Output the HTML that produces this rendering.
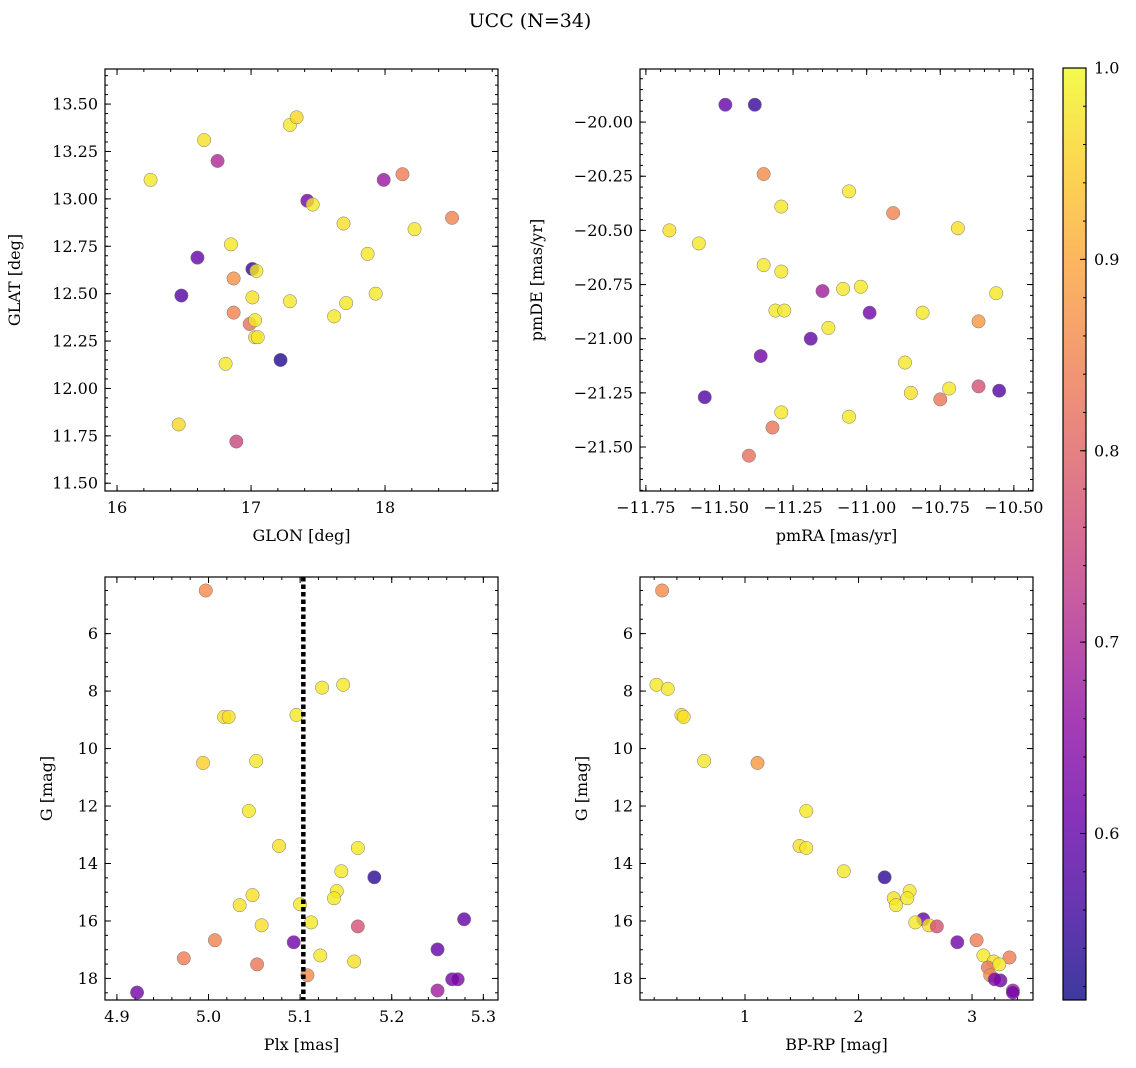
<!DOCTYPE html>
<html><head><meta charset="utf-8">
<style>
html,body{margin:0;padding:0;background:#fff;}
svg{display:block;font-family:"DejaVu Serif","Liberation Serif",serif;}
</style></head>
<body>
<svg id="fig" width="1136" height="1068" viewBox="0 0 1136 1068" xmlns="http://www.w3.org/2000/svg">
<defs>
<linearGradient id="plasma" x1="0" y1="1" x2="0" y2="0">
<stop offset="0" stop-color="#0d0887"/><stop offset="0.1" stop-color="#41049d"/><stop offset="0.2" stop-color="#6a00a8"/><stop offset="0.3" stop-color="#8f0da4"/><stop offset="0.4" stop-color="#b12a90"/><stop offset="0.5" stop-color="#cc4778"/><stop offset="0.6" stop-color="#e16462"/><stop offset="0.7" stop-color="#f2844b"/><stop offset="0.8" stop-color="#fca636"/><stop offset="0.9" stop-color="#fcce25"/><stop offset="1" stop-color="#f0f921"/>
</linearGradient>
</defs>
<text x="530" y="27" text-anchor="middle" font-size="19">UCC (N=34)</text>
</svg>
<script>
// Panel 1: GLON / GLAT
const p1X=[16.25,16.65,16.75,17.29,17.34,17.42,17.46,17.69,17.99,18.13,18.50,18.22,17.87,16.85,16.60,17.01,17.04,16.87,16.48,17.01,17.29,17.71,17.93,17.62,16.87,16.99,17.03,17.03,17.05,16.81,17.22,16.46,16.89];
const p1Y=[13.10,13.31,13.20,13.39,13.43,12.99,12.97,12.87,13.10,13.13,12.90,12.84,12.71,12.76,12.69,12.63,12.62,12.58,12.49,12.48,12.46,12.45,12.50,12.38,12.40,12.34,12.36,12.27,12.27,12.13,12.15,11.81,11.72];
const p1P=[0.98,0.97,0.70,0.98,0.96,0.62,0.98,0.97,0.67,0.84,0.85,0.98,0.98,0.98,0.60,0.55,0.98,0.87,0.58,0.97,0.98,0.98,0.98,0.98,0.85,0.82,0.98,0.97,0.98,0.98,0.53,0.96,0.75];
// Panel 2: pmRA / pmDE
const p2X=[-11.48,-11.38,-11.35,-11.06,-11.29,-10.91,-11.67,-10.69,-11.57,-11.35,-11.29,-11.15,-11.08,-11.02,-10.56,-11.31,-11.28,-10.99,-10.81,-10.62,-11.13,-11.19,-11.36,-10.87,-11.55,-10.85,-10.72,-10.62,-10.55,-10.75,-11.29,-11.06,-11.32,-11.40];
const p2Y=[-19.92,-19.92,-20.24,-20.32,-20.39,-20.42,-20.50,-20.49,-20.56,-20.66,-20.69,-20.78,-20.77,-20.76,-20.79,-20.87,-20.87,-20.88,-20.88,-20.92,-20.95,-21.00,-21.08,-21.11,-21.27,-21.25,-21.23,-21.22,-21.24,-21.28,-21.34,-21.36,-21.41,-21.54];
const p2P=[0.60,0.55,0.86,0.98,0.98,0.85,0.97,0.97,0.98,0.98,0.98,0.68,0.98,0.98,0.98,0.98,0.98,0.62,0.98,0.88,0.98,0.60,0.62,0.98,0.58,0.97,0.98,0.77,0.58,0.83,0.98,0.98,0.83,0.82];
// Panel 3: Plx / G
const p3X=[4.997,5.147,5.124,5.017,5.022,5.096,4.994,5.052,5.044,5.077,5.163,5.145,5.181,5.140,5.137,5.048,5.034,5.100,5.112,5.058,5.279,5.163,5.007,5.093,5.250,5.122,5.159,4.973,5.053,5.108,5.266,5.272,4.922,5.250];
const p3Y=[4.50,7.78,7.88,8.90,8.90,8.83,10.50,10.43,12.17,13.39,13.46,14.27,14.48,14.96,15.21,15.10,15.45,15.42,16.05,16.15,15.94,16.19,16.67,16.74,16.99,17.20,17.41,17.30,17.51,17.89,18.03,18.03,18.49,18.42];
const p3P=[0.86,0.98,0.98,0.97,0.97,0.98,0.95,0.98,0.98,0.97,0.98,0.98,0.54,0.98,0.98,0.97,0.97,0.98,0.98,0.97,0.60,0.77,0.85,0.62,0.60,0.98,0.97,0.84,0.83,0.86,0.62,0.63,0.62,0.68];
const plxLine=5.1035;
// Panel 4: BP-RP / G
const p4X=[0.27,0.22,0.32,0.44,0.46,0.64,1.11,1.54,1.48,1.54,1.87,2.23,2.45,2.43,2.31,2.33,2.57,2.50,2.62,2.69,3.04,2.87,3.10,3.19,3.33,3.14,3.16,3.25,3.20,3.36,3.36,3.24];
const p4Y=[4.50,7.78,7.92,8.83,8.90,10.43,10.50,12.17,13.39,13.46,14.27,14.48,14.96,15.21,15.21,15.45,15.94,16.05,16.15,16.19,16.67,16.74,17.20,17.41,17.27,17.62,17.89,18.07,18.03,18.42,18.49,17.51];
const p4P=[0.86,0.98,0.98,0.97,0.97,0.98,0.88,0.98,0.97,0.98,0.98,0.54,0.98,0.98,0.97,0.98,0.60,0.98,0.97,0.77,0.84,0.62,0.98,0.97,0.84,0.83,0.86,0.62,0.63,0.68,0.62,0.98];
const cbTicks=[0.6,0.7,0.8,0.9,1.0];
const cbMin=0.513, cbMax=1.0;

const NS="http://www.w3.org/2000/svg";
const svg=document.getElementById('fig');
function mk(tag,attrs,parent){const e=document.createElementNS(NS,tag);for(const k in attrs)e.setAttribute(k,attrs[k]);(parent||svg).appendChild(e);return e;}
const stops=[[13,8,135],[65,4,157],[106,0,168],[143,13,164],[177,42,144],[204,71,120],[225,100,98],[242,132,75],[252,166,54],[252,206,37],[240,249,33]];
function plasma(v){let t=(v-cbMin)/(cbMax-cbMin);t=Math.max(0,Math.min(1,t))*10;const i=Math.min(9,Math.floor(t));const f=t-i;const a=stops[i],b=stops[i+1];return 'rgb('+[0,1,2].map(k=>Math.round(a[k]+(b[k]-a[k])*f)).join(',')+')';}
function fmt(v,d){const s=Math.abs(v).toFixed(d);return (v<-1e-9?'\u2212':'')+s;}

function panel(o){
  const g=mk('g',{});
  
  
  const sx=v=>o.x0+(v-o.xr[0])/(o.xr[1]-o.xr[0])*(o.x1-o.x0);
  const sy=v=>o.inv? o.y0+(v-o.yr[0])/(o.yr[1]-o.yr[0])*(o.y1-o.y0) : o.y1-(v-o.yr[0])/(o.yr[1]-o.yr[0])*(o.y1-o.y0);
  const tg=mk('g',{stroke:'#000','stroke-width':1},g);
  function ticks(r,step,fn){const s=Math.ceil(r[0]/step-1e-6);const e=Math.floor(r[1]/step+1e-6);for(let i=s;i<=e;i++)fn(+(i*step).toFixed(6));}
  ticks(o.xr,o.xmin,v=>{const x=sx(v);mk('line',{x1:x,x2:x,y1:o.y1,y2:o.y1-3},tg);mk('line',{x1:x,x2:x,y1:o.y0,y2:o.y0+3},tg);});
  ticks(o.yr,o.ymin,v=>{const y=sy(v);mk('line',{x1:o.x0,x2:o.x0+3,y1:y,y2:y},tg);mk('line',{x1:o.x1,x2:o.x1-3,y1:y,y2:y},tg);});
  ticks(o.xr,o.xmaj,v=>{const x=sx(v);mk('line',{x1:x,x2:x,y1:o.y1,y2:o.y1-6},tg);mk('line',{x1:x,x2:x,y1:o.y0,y2:o.y0+6},tg);
    const t=mk('text',{x:x,y:o.y1+22,'text-anchor':'middle','font-size':16},g);t.textContent=fmt(v,o.xd);
    
    });
  ticks(o.yr,o.ymaj,v=>{const y=sy(v);mk('line',{x1:o.x0,x2:o.x0+6,y1:y,y2:y},tg);mk('line',{x1:o.x1,x2:o.x1-6,y1:y,y2:y},tg);
    const t=mk('text',{x:o.x0-7,y:y+5.5,'text-anchor':'end','font-size':16},g);t.textContent=fmt(v,o.yd);
    
    });
  const clip='c'+o.name;const cp=mk('clipPath',{id:clip},g);mk('rect',{x:o.x0,y:o.y0,width:o.x1-o.x0,height:o.y1-o.y0},cp);
  const pg=mk('g',{'clip-path':'url(#'+clip+')'},g);
  o.X.forEach((xv,i)=>{const c=mk('circle',{cx:sx(xv),cy:sy(o.Y[i]),r:6.7,fill:plasma(o.P[i]),'fill-opacity':0.8,stroke:'#777','stroke-width':0.5},pg);
    
    });
  if(o.vline!==undefined){const x=sx(o.vline);const l=mk('line',{x1:x,x2:x,y1:o.y0,y2:o.y1,stroke:'#000','stroke-width':4.5,'stroke-dasharray':'4.5,3'},pg);
    
    }
  const fr=mk('rect',{x:o.x0,y:o.y0,width:o.x1-o.x0,height:o.y1-o.y0,fill:'none',stroke:'#000','stroke-width':1.2},g);
  
  
  const xl=mk('text',{x:(o.x0+o.x1)/2,y:o.y1+50,'text-anchor':'middle','font-size':16},g);xl.textContent=o.xlab;
  
  
  const yx=o.ylx, yy=(o.y0+o.y1)/2;
  const yl=mk('text',{x:yx,y:yy,'text-anchor':'middle','font-size':16,transform:'rotate(-90 '+yx+' '+yy+')'},g);yl.textContent=o.ylab;
  
  
}
panel({name:'glon-glat-panel',x0:105,x1:498,y0:69,y1:491,xr:[15.91,18.843],yr:[11.459,13.685],xmaj:1,xmin:0.2,ymaj:0.25,ymin:0.05,xd:0,yd:2,X:p1X,Y:p1Y,P:p1P,xlab:'GLON [deg]',ylab:'GLAT [deg]',ylx:20});
panel({name:'pm-panel',x0:640,x1:1033,y0:69,y1:491,xr:[-11.770,-10.435],yr:[-21.703,-19.755],xmaj:0.25,xmin:0.05,ymaj:0.25,ymin:0.05,xd:2,yd:2,X:p2X,Y:p2Y,P:p2P,xlab:'pmRA [mas/yr]',ylab:'pmDE [mas/yr]',ylx:542});
panel({name:'plx-g-panel',x0:105,x1:498,y0:577,y1:1000,xr:[4.887,5.316],yr:[4.03,18.75],inv:true,xmaj:0.1,xmin:0.02,ymaj:2,ymin:0.5,xd:1,yd:0,X:p3X,Y:p3Y,P:p3P,vline:plxLine,xlab:'Plx [mas]',ylab:'G [mag]',ylx:52});
panel({name:'cmd-panel',x0:640,x1:1033,y0:577,y1:1000,xr:[0.075,3.537],yr:[4.03,18.75],inv:true,xmaj:1,xmin:0.2,ymaj:2,ymin:0.5,xd:0,yd:0,X:p4X,Y:p4Y,P:p4P,xlab:'BP-RP [mag]',ylab:'G [mag]',ylx:587});
const cb=mk('g',{});


const cx0=1063,cx1=1086,cy0=68,cy1=1000;
mk('rect',{x:cx0,y:cy0,width:cx1-cx0,height:cy1-cy0,fill:'url(#plasma)','fill-opacity':0.8},cb);
mk('rect',{x:cx0,y:cy0,width:cx1-cx0,height:cy1-cy0,fill:'none',stroke:'#000','stroke-width':1.2},cb);
const cys=v=>cy1-(v-cbMin)/(cbMax-cbMin)*(cy1-cy0);
for(let i=Math.ceil(cbMin/0.02);i<=Math.floor(cbMax/0.02+1e-6);i++){const y=cys(i*0.02);mk('line',{x1:cx1,x2:cx1-3,y1:y,y2:y,stroke:'#000'},cb);}
cbTicks.forEach(v=>{const y=cys(v);mk('line',{x1:cx1,x2:cx1-6,y1:y,y2:y,stroke:'#000'},cb);
  const t=mk('text',{x:cx1+8,y:y+5.5,'font-size':16},cb);t.textContent=v.toFixed(1);
  
  });
</script>
</body></html>
